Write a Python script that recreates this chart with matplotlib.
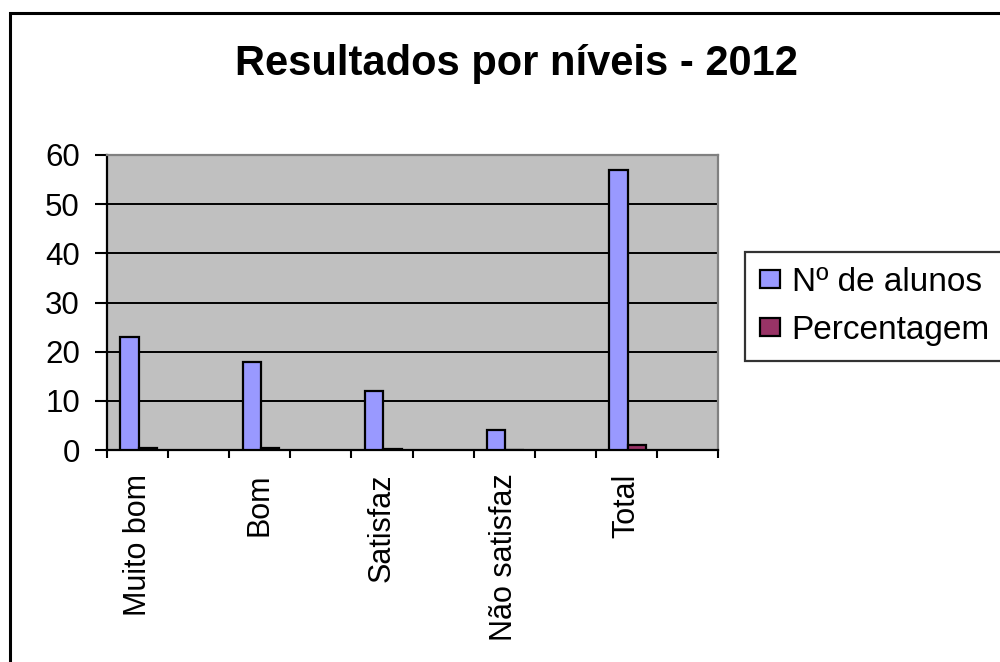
import numpy as np
import matplotlib
matplotlib.use("Agg")
import matplotlib.pyplot as plt
from matplotlib.patches import Rectangle

categories = ["Muito bom", "", "Bom", "", "Satisfaz", "", "Não satisfaz", "", "Total", ""]
n_alunos = [23, np.nan, 18, np.nan, 12, np.nan, 4, np.nan, 57, np.nan]
percentagem = [0.40, np.nan, 0.32, np.nan, 0.21, np.nan, 0.07, np.nan, 1.0, np.nan]
series_names = ["Nº de alunos", "Percentagem"]
title = "Resultados por níveis - 2012"
yticks = [0, 10, 20, 30, 40, 50, 60]

plt.rcParams['font.family'] = ['Liberation Sans', 'DejaVu Sans']

fig = plt.figure(figsize=(10, 6.62), dpi=100)
W, H = 1000, 662
ax = fig.add_axes([107 / W, 1 - 450 / H, (718 - 107) / W, (450 - 155) / H])
ax.set_facecolor("#C0C0C0")

x = np.arange(len(categories))
bw = 0.3
ax.bar(x - 0.13, n_alunos, width=bw, color="#9999FF", edgecolor="black", linewidth=1.6,
       label=series_names[0], zorder=3)
ax.bar(x + 0.17, percentagem, width=bw, color="#993366", edgecolor="black", linewidth=1.6,
       label=series_names[1], zorder=3)

ax.set_xlim(-0.5, len(categories) - 0.5)
ax.set_ylim(0, 60)
ax.set_yticks(yticks)
ax.set_yticklabels([str(v) for v in yticks], fontsize=22.5)
ax.yaxis.grid(True, color="black", linewidth=1.4, zorder=1)
ax.set_axisbelow(True)
ax.tick_params(axis="y", direction="out", length=8.5, width=1.5, pad=11)

ax.set_xticks(x)
ax.set_xticklabels(categories, rotation=90, fontsize=22, va="top", ha="center")
ax.tick_params(axis="x", which="major", length=0, pad=17)
ax.set_xticks(np.arange(-0.5, len(categories), 1.0), minor=True)
ax.tick_params(axis="x", which="minor", direction="out", length=6, width=1.5)

for s in ["left", "bottom"]:
    ax.spines[s].set_color("black")
    ax.spines[s].set_linewidth(1.6)
for s in ["top", "right"]:
    ax.spines[s].set_color("#808080")
    ax.spines[s].set_linewidth(1.6)

fig.text(516 / W, 1 - 64 / H, title, ha="center", va="center", fontsize=30,
         fontweight="bold")

leg = fig.legend(loc="upper left", bbox_to_anchor=(745 / W, 1 - 252 / H),
                 fontsize=24, frameon=True, fancybox=False, edgecolor="black",
                 handlelength=0.6, handleheight=0.45, handletextpad=0.35,
                 labelspacing=0.5, borderpad=0.45, borderaxespad=0)
leg.get_frame().set_linewidth(1.6)

frame = Rectangle((10 / W, -0.1), 1.2, (1 - 13 / H) + 0.1, transform=fig.transFigure,
                  fill=False, edgecolor="black", linewidth=2.2)
fig.patches.append(frame)

fig.savefig("out.png", dpi=100, facecolor="white")
